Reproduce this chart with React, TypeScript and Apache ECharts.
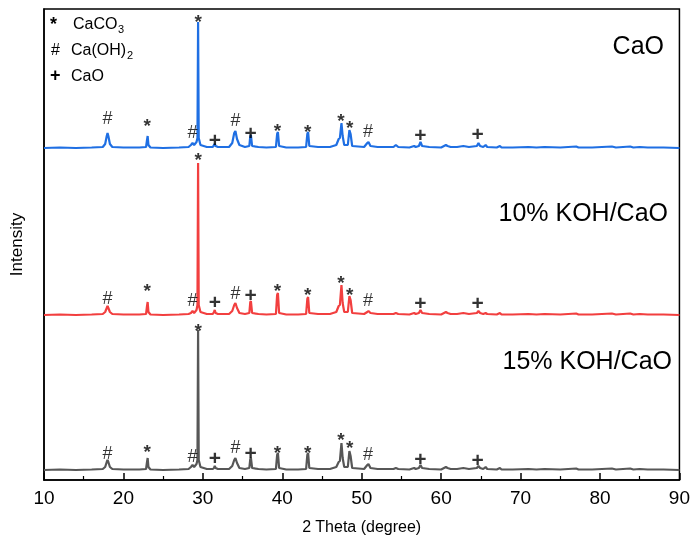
import React, { useEffect, useRef } from "react";
import * as echarts from "echarts";

// 2θ sample positions (shared by all three patterns)
const twoTheta = [
  10, 12, 14, 16, 17.4, 17.7, 17.9, 18.0, 18.1, 18.3,
  18.6, 20, 22, 22.85, 22.97, 23.05, 23.15, 23.4, 25, 27,
  28.2, 28.5, 28.7, 28.9, 29.2, 29.32, 29.4, 29.48, 29.7, 30.5,
  31.25, 31.4, 31.5, 31.6, 31.9, 33.3, 33.7, 33.95, 34.1, 34.3,
  34.6, 35.3, 35.85, 35.97, 36.05, 36.2, 37, 38, 39.2, 39.35,
  39.45, 39.6, 40.5, 42, 43.0, 43.15, 43.25, 43.4, 44.5, 46,
  46.8, 47.1, 47.25, 47.45, 47.6, 47.8, 48.25, 48.45, 48.6, 48.8,
  50.3, 50.7, 50.85, 51.1, 52, 54, 54.3, 54.6, 56, 56.6,
  56.8, 57.2, 57.4, 57.6, 58.5, 60, 60.6, 60.8, 61.2, 62,
  62.8, 63.5, 64.5, 64.7, 64.9, 65.3, 65.6, 65.8, 67, 67.4,
  67.6, 69, 71, 72, 73, 75, 77, 77.3, 79, 81.5,
  82, 83.8, 84.2, 85, 86, 88, 90,
];

// Intensities above each pattern's own baseline
const caoIntensity = [
  0, 0.5, 0, 0.5, 1, 4, 12, 15, 12, 4,
  1, 0.5, 0.5, 1, 8, 12, 3, 0.5, 0, 0.5,
  1, 3, 5, 3, 6, 10, 126, 10, 3, 1,
  1, 3, 4, 2, 1, 1, 5, 15, 17, 9,
  3, 1, 2, 12, 13, 2, 1, 0.5, 1, 14,
  16, 2, 0.5, 0.5, 1, 14, 16, 2, 1, 1,
  3, 9, 10, 25, 12, 3, 3, 18, 14, 2,
  1, 5, 6, 2, 1, 1, 3, 1, 0.5, 2,
  1, 2, 6, 2, 1, 0.5, 3, 2, 1, 1,
  2, 1, 2, 5, 2, 1, 3, 1, 0.5, 2,
  0.5, 0.5, 1, 0.5, 1, 0.5, 1.5, 0.5, 0.5, 1.5,
  0.5, 1.5, 0.5, 1, 0.5, 0.5, 0,
];
const koh10Intensity = [
  0, 0.5, 0, 0.5, 1, 3, 7, 9, 7, 3,
  1, 0.5, 0.5, 1, 9, 13, 3, 0.5, 0, 0.5,
  1, 2, 4, 2, 5, 10, 152, 10, 3, 1,
  1, 3, 5, 2, 1, 1, 4, 10, 12, 7,
  2, 1, 2, 13, 14, 2, 1, 0.5, 1, 20,
  22, 2, 0.5, 0.5, 1, 16, 18, 2, 1, 1,
  3, 9, 10, 30, 12, 3, 3, 19, 15, 2,
  1, 3, 4, 2, 1, 1, 2, 1, 0.5, 2,
  1, 2, 5, 2, 1, 0.5, 3, 2, 1, 1,
  2, 1, 2, 4, 2, 1, 2, 1, 0.5, 2,
  0.5, 0.5, 1, 0.5, 1, 0.5, 1.5, 0.5, 0.5, 1.5,
  0.5, 1.5, 0.5, 1, 0.5, 0.5, 0,
];
const koh15Intensity = [
  0, 0.5, 0, 0.5, 1, 3, 8, 10, 8, 3,
  1, 0.5, 0.5, 1, 8, 12, 3, 0.5, 0, 0.5,
  1, 3, 5, 3, 6, 10, 140, 10, 3, 1,
  1, 2, 4, 2, 1, 1, 4, 10, 12, 7,
  2, 1, 2, 11, 12, 2, 1, 0.5, 1, 15,
  17, 2, 0.5, 0.5, 1, 15, 17, 2, 1, 1,
  3, 8, 9, 27, 12, 3, 3, 19, 14, 2,
  1, 5, 6, 2, 1, 1, 2, 1, 0.5, 2,
  1, 2, 5, 2, 1, 0.5, 3, 2, 1, 1,
  2, 1, 2, 4, 2, 1, 3, 1, 0.5, 2,
  0.5, 0.5, 1, 0.5, 1, 0.5, 1.5, 0.5, 0.5, 1.5,
  0.5, 1.5, 0.5, 1, 0.5, 0.5, 0,
];

// Vertical stacking offsets of the three patterns
const baselines = { cao: 332, koh10: 165, koh15: 10 };

// Phase markers
const markAngles = [18.0, 23.0, 28.7, 29.4, 31.5, 34.1, 36.0, 39.4, 43.2, 47.4, 48.5, 50.8, 57.4, 64.6];
const markSymbols = ["#", "*", "#", "*", "+", "#", "+", "*", "*", "*", "*", "#", "+", "+"];
const caoMarkHeights = [30, 28, 16, 132, 9, 28, 16, 23, 22, 33, 26, 17, 14, 15];
const koh10MarkHeights = [17, 30, 15, 161, 14, 22, 21, 30, 26, 38, 26, 15, 13, 13];
const koh15MarkHeights = [17, 24, 14, 145, 13, 23, 18, 23, 23, 36, 28, 16, 12, 11];

const xTicks = { min: 10, max: 90, interval: 10 };
const sampleNames = ["CaO", "10% KOH/CaO", "15% KOH/CaO"];

const FONT = "'Liberation Sans', Arial, sans-serif";

function buildLine(vals: number[], base: number) {
  return twoTheta.map((x, i) => [x, vals[i] + base]);
}
function buildMarks(heights: number[], base: number) {
  return markAngles.map((x, i) => {
    const s = markSymbols[i];
    return {
      value: [x, heights[i] + base],
      label: {
        offset: [0, s === "*" ? 5 : 0],
        fontSize: s === "*" ? 19 : s === "+" ? 21 : 18,
        fontWeight: s === "#" ? "normal" : "bold",
      },
    };
  });
}

export default function App() {
  const ref = useRef<HTMLDivElement>(null);
  useEffect(() => {
    if (!ref.current) return;
    const chart = echarts.init(ref.current, undefined, { renderer: "svg" });
    const colors = ["#1f6fe3", "#f23f3f", "#575757"];
    const lines = [
      buildLine(caoIntensity, baselines.cao),
      buildLine(koh10Intensity, baselines.koh10),
      buildLine(koh15Intensity, baselines.koh15),
    ];
    const marks = [
      buildMarks(caoMarkHeights, baselines.cao),
      buildMarks(koh10MarkHeights, baselines.koh10),
      buildMarks(koh15MarkHeights, baselines.koh15),
    ];
    const series: any[] = [];
    lines.forEach((d, k) => {
      series.push({
        type: "line",
        data: d,
        symbol: "none",
        lineStyle: { color: colors[k], width: 2.2 },
        z: 3,
      });
    });
    marks.forEach((d) => {
      series.push({
        type: "scatter",
        data: d,
        symbolSize: 0,
        z: 5,
        label: {
          show: true,
          position: "inside",
          formatter: (p: any) => markSymbols[p.dataIndex],
          color: "#000",
          fontSize: 18,
          fontFamily: FONT,
        },
      });
    });
    chart.setOption({
      animation: false,
      grid: {
        left: 40,
        right: 13,
        top: 9,
        bottom: 59,
        show: true,
        borderColor: "#000",
        borderWidth: 1.5,
      },
      xAxis: {
        type: "value",
        min: xTicks.min,
        max: xTicks.max,
        interval: xTicks.interval,
        name: "2 Theta (degree)",
        nameLocation: "middle",
        nameGap: 38,
        nameTextStyle: { color: "#000", fontSize: 16, fontFamily: FONT },
        axisLine: { show: true, lineStyle: { color: "#000", width: 1.5 } },
        axisTick: { show: true, inside: true, length: 7, lineStyle: { color: "#000", width: 1.5 } },
        minorTick: { show: true, splitNumber: 2, length: 4, lineStyle: { color: "#000", width: 1.2 } },
        axisLabel: { color: "#000", fontSize: 19, fontFamily: FONT, margin: 8 },
        splitLine: { show: false },
      },
      yAxis: {
        type: "value",
        min: 0,
        max: 471,
        name: "Intensity",
        nameLocation: "middle",
        nameGap: 19,
        nameRotate: 90,
        nameTextStyle: { color: "#000", fontSize: 17, fontFamily: FONT },
        axisLine: { show: true, lineStyle: { color: "#000", width: 1.5 } },
        axisTick: { show: false },
        axisLabel: { show: false },
        splitLine: { show: false },
      },
      graphic: [
        { type: "text", left: 50, top: 15, style: { text: "*", fontSize: 18, fontWeight: "bold", fontFamily: FONT, fill: "#000" } },
        { type: "text", left: 73, top: 15, style: { text: "CaCO", fontSize: 16, fontFamily: FONT, fill: "#000" } },
        { type: "text", left: 118, top: 23, style: { text: "3", fontSize: 11, fontFamily: FONT, fill: "#000" } },
        { type: "text", left: 51, top: 41, style: { text: "#", fontSize: 16, fontFamily: FONT, fill: "#000" } },
        { type: "text", left: 71, top: 41, style: { text: "Ca(OH)", fontSize: 16, fontFamily: FONT, fill: "#000" } },
        { type: "text", left: 127, top: 49, style: { text: "2", fontSize: 11, fontFamily: FONT, fill: "#000" } },
        { type: "text", left: 50, top: 66, style: { text: "+", fontSize: 18, fontWeight: "bold", fontFamily: FONT, fill: "#000" } },
        { type: "text", left: 71, top: 67, style: { text: "CaO", fontSize: 16, fontFamily: FONT, fill: "#000" } },
        { type: "text", right: 29, top: 32, style: { text: sampleNames[0], fontSize: 25, fontFamily: FONT, fill: "#000" } },
        { type: "text", right: 25, top: 199, style: { text: sampleNames[1], fontSize: 25, fontFamily: FONT, fill: "#000" } },
        { type: "text", right: 21, top: 347, style: { text: sampleNames[2], fontSize: 25, fontFamily: FONT, fill: "#000" } },
      ],
      series,
    });
    return () => chart.dispose();
  }, []);
  return (
    <div
      ref={ref}
      style={{ position: "fixed", left: 0, top: 0, width: 693, height: 539 }}
    />
  );
}
